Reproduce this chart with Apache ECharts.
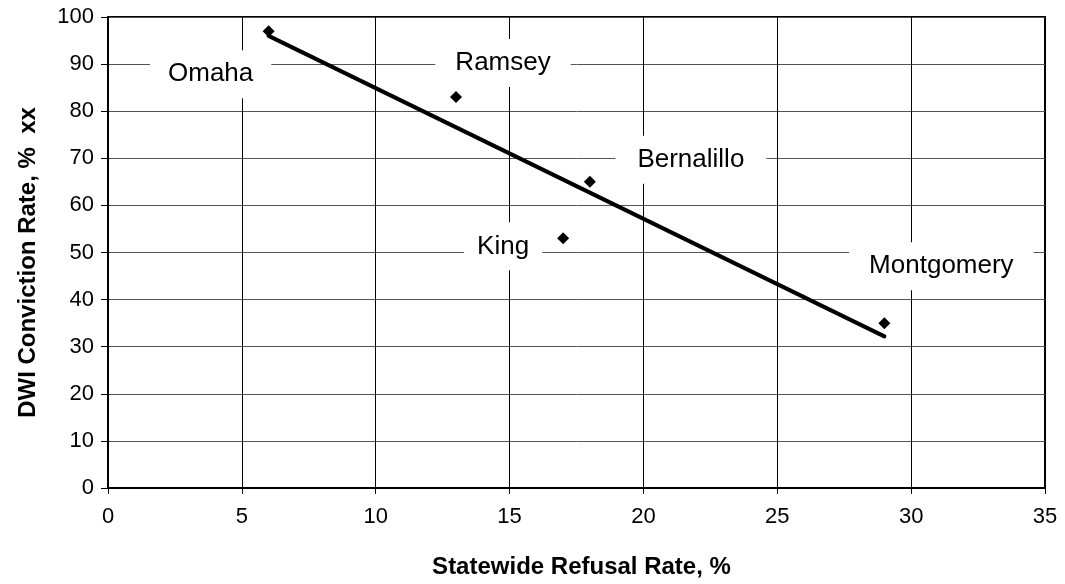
<!DOCTYPE html>
<html>
<head>
<meta charset="utf-8">
<script src="https://cdn.jsdelivr.net/npm/echarts@6/dist/echarts.min.js"></script>
<style>
html,body{margin:0;padding:0;background:#fff;}
#c{width:1065px;height:584px;}
</style>
</head>
<body>
<div id="c"></div>
<script>
// Data
var names = ['Omaha', 'Ramsey', 'Bernalillo', 'King', 'Montgomery'];
var refusalRate = [6, 13, 18, 17, 29];
var convictionRate = [97, 83, 65, 53, 35];
var trendX = [6, 29];
var trendY = [96, 32.2];
var xTicks = [0, 5, 10, 15, 20, 25, 30, 35];
var yTicks = [0, 10, 20, 30, 40, 50, 60, 70, 80, 90, 100];

// Layout-only: label box offsets from their points and horizontal paddings (pixels)
var labelOffsets = [[-58, 43], [47, -34], [101, -22], [-60, 8], [57, -57]];
var labelPadX = [18, 20, 22, 13, 20];

var FONT = 'Liberation Sans, Arial, sans-serif';

var pts = names.map(function (n, i) {
  return {
    name: n,
    value: [refusalRate[i], convictionRate[i]],
    label: { padding: [11, labelPadX[i]] }
  };
});

var chart = echarts.init(document.getElementById('c'), null, { renderer: 'canvas' });
chart.setOption({
  animation: false,
  backgroundColor: '#fff',
  grid: {
    left: 108, right: 20, top: 17, bottom: 93,
    show: true, borderColor: '#000', borderWidth: 2, backgroundColor: 'transparent'
  },
  xAxis: {
    type: 'value',
    min: xTicks[0], max: xTicks[xTicks.length - 1], interval: 5,
    name: 'Statewide Refusal Rate, %',
    nameLocation: 'middle', nameGap: 67,
    nameTextStyle: { fontFamily: FONT, fontSize: 24, fontWeight: 'bold', color: '#000', padding: [0, 0, 0, 10] },
    axisLine: { show: true, lineStyle: { color: '#000', width: 2 } },
    axisTick: { show: true, length: 6, lineStyle: { color: '#000', width: 1 } },
    axisLabel: { fontFamily: FONT, fontSize: 22, color: '#000', margin: 18 },
    splitLine: { show: true, lineStyle: { color: '#000', width: 1 } }
  },
  yAxis: {
    type: 'value',
    min: yTicks[0], max: yTicks[yTicks.length - 1], interval: 10,
    name: 'DWI Conviction Rate, %  xx',
    nameLocation: 'middle', nameGap: 68, nameRotate: 90,
    nameTextStyle: { fontFamily: FONT, fontSize: 24, fontWeight: 'bold', color: '#000', padding: [0, 20, 0, 0] },
    axisLine: { show: true, lineStyle: { color: '#000', width: 2 } },
    axisTick: { show: true, length: 7, lineStyle: { color: '#000', width: 1 } },
    axisLabel: { fontFamily: FONT, fontSize: 22, color: '#000', margin: 14 },
    splitLine: { show: true, lineStyle: { color: '#555', width: 1 } }
  },
  series: [
    {
      type: 'scatter',
      symbol: 'diamond',
      symbolSize: 12,
      itemStyle: { color: '#000', opacity: 1 },
      z: 3,
      label: {
        show: true,
        position: 'inside',
        formatter: '{b}',
        fontFamily: FONT,
        fontSize: 26,
        lineHeight: 26,
        color: '#000',
        opacity: 1,
        textBorderWidth: 0,
        backgroundColor: '#fff',
        align: 'center',
        verticalAlign: 'middle'
      },
      labelLayout: function (params) {
        var o = labelOffsets[params.dataIndex];
        return { dx: o[0], dy: o[1], hideOverlap: false, moveOverlap: null };
      },
      emphasis: { disabled: true },
      data: pts
    },
    {
      type: 'line',
      data: trendX.map(function (x, i) { return [x, trendY[i]]; }),
      symbol: 'none',
      lineStyle: { color: '#000', width: 4, cap: 'round' },
      z: 5,
      silent: true
    }
  ]
});
</script>
</body>
</html>
